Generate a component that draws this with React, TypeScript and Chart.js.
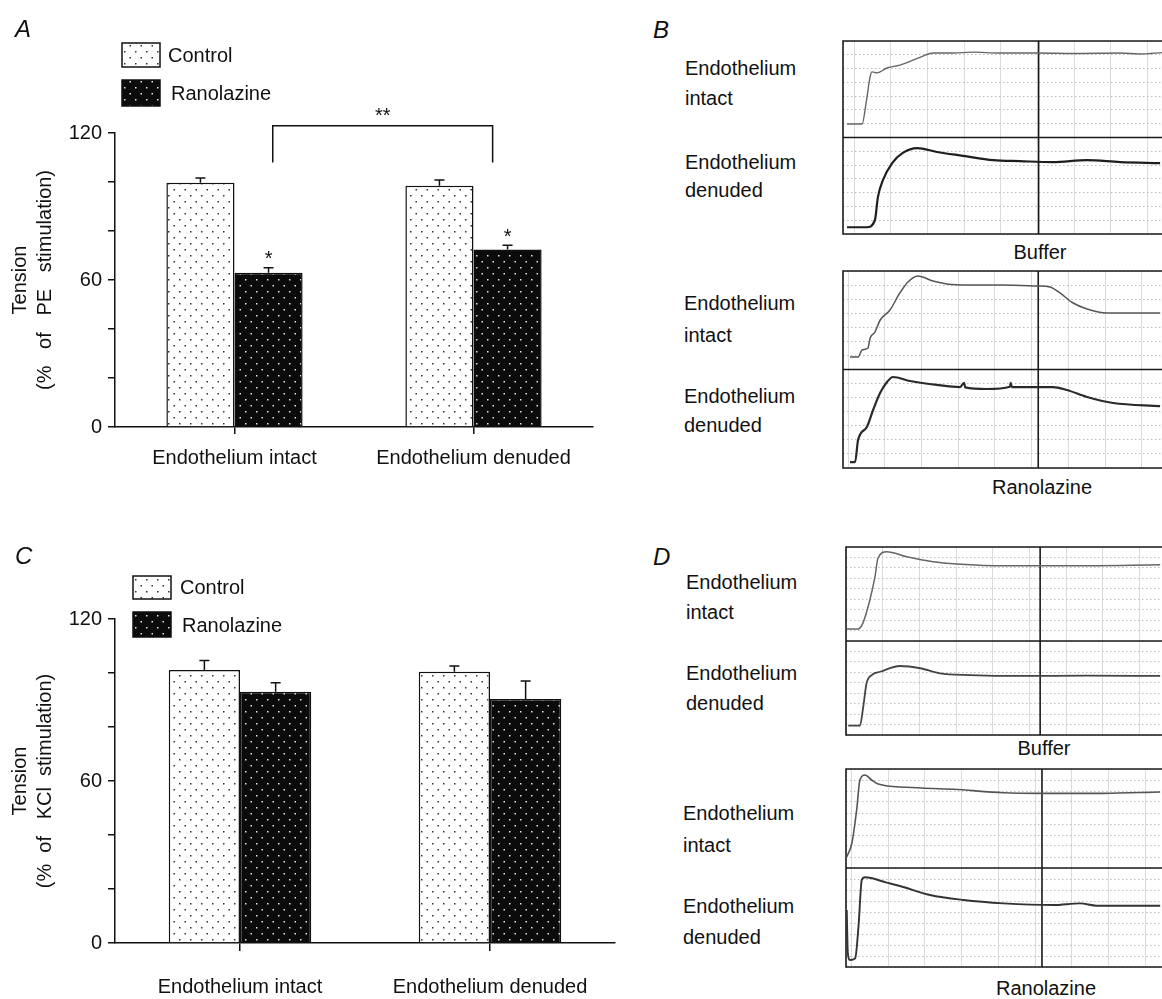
import React, { useEffect, useRef } from 'react';
import { Chart, registerables } from 'chart.js';

Chart.register(...registerables);

const FONT = "'Liberation Sans', Arial, Helvetica, sans-serif";
Chart.defaults.font.family = FONT;
Chart.defaults.font.size = 20;
Chart.defaults.color = '#111';

// ---------------- Bar panel data (A: PE, C: KCl) ----------------
const categories = ['Endothelium intact', 'Endothelium denuded'];
const seriesLabels = ['Control', 'Ranolazine'];
const yTickLabels = [0, 60, 120];
const yTickStep = 20;
const yMax = 120;

const peControl = [99.7, 98.5];
const peControlSem = [1.9, 2.3];
const peRanolazine = [63.0, 72.5];
const peRanolazineSem = [2.0, 1.7];
const peRanolazineStars = ['*', '*'];
const peBracket = { fromCat: 0.16, toCat: 1.08, top: 123, legEnd: 108, label: '**' };
const peYTitle = ['Tension', '(%   of   PE   stimulation)'];

const kclControl = [101.1, 100.5];
const kclControlSem = [3.5, 2.1];
const kclRanolazine = [93.1, 90.4];
const kclRanolazineSem = [3.3, 6.6];
const kclRanolazineStars = ['', ''];
const kclYTitle = ['Tension', '(%  of   KCl  stimulation)'];

// ---------------- Trace data ([time in grid divisions, tension 0-100 of its half]) ----------------
const pePufferIntact = [[0.11, 14], [0.52, 14], [0.63, 36], [0.74, 63], [0.79, 68], [0.93, 67], [1.2, 72], [1.55, 75], [2.1, 83], [2.45, 87.5], [3.0, 87.5], [3.54, 88.5], [4.28, 87.5], [5.34, 87.5], [6.27, 87], [7.55, 87.5], [8.09, 86.5], [8.69, 88]];
const peBufferDenuded = [[0.11, 7], [0.65, 7], [0.87, 14.5], [0.95, 38], [1.09, 56], [1.34, 73.5], [1.63, 84], [2.02, 89], [2.56, 85], [3.27, 81], [4.09, 76.5], [4.82, 75.5], [5.72, 74.5], [6.65, 76.5], [7.55, 74.5], [8.64, 73.5]];
const peRanoIntact = [[0.19, 12.7], [0.41, 12.7], [0.52, 19.8], [0.68, 21.8], [0.74, 32], [0.87, 38], [1.01, 50], [1.28, 60.4], [1.55, 77.7], [1.77, 88.8], [2.04, 94.9], [2.45, 89.8], [2.83, 86.8], [3.46, 85.8], [4.36, 85.8], [5.29, 84.8], [5.64, 83.8], [5.91, 77.7], [6.27, 67.5], [6.65, 61.4], [7.19, 57.4], [8.01, 57.4], [8.64, 57.4]];
const peRanoDenuded = [[0.19, 6], [0.33, 6], [0.41, 28.4], [0.65, 41.6], [0.82, 58.9], [1.01, 76.1], [1.2, 87.3], [1.36, 92.4], [1.83, 88.3], [2.56, 84.3], [3.19, 82.2], [3.3, 86.5], [3.33, 81.8], [3.92, 80.2], [4.55, 82.5], [4.57, 86.5], [4.6, 82.2], [5.72, 82.2], [6.1, 79.2], [6.65, 72.1], [7.36, 66], [8.64, 62.9]];
const kclBufferIntact = [[0.02, 12.8], [0.33, 12.8], [0.46, 19], [0.65, 43.6], [0.79, 68.4], [0.87, 88], [1.11, 95], [1.65, 89.7], [2.37, 84.4], [3.02, 82], [4.38, 80], [6.19, 80], [8.56, 81]];
const kclBufferDenuded = [[0.06, 9.9], [0.38, 9.9], [0.47, 30], [0.56, 55], [0.7, 63.8], [0.93, 67.3], [1.47, 73.4], [2.02, 71], [2.56, 65.6], [3.38, 63.8], [4.74, 62.8], [6.56, 63.1], [8.56, 62.8]];
const kclRanoIntact = [[0.02, 11.4], [0.16, 25], [0.29, 58.6], [0.38, 88.9], [0.52, 93.9], [0.7, 88.9], [0.88, 84.8], [1.65, 81.5], [2.92, 79.5], [4.29, 76], [5.29, 75.4], [7.01, 75.4], [8.56, 76.8]];
const kclRanoDenuded = [[0.02, 57.6], [0.05, 14], [0.11, 7], [0.25, 8.8], [0.34, 40.7], [0.43, 87.9], [0.52, 90.6], [1.11, 85.2], [1.47, 81.8], [2.29, 72.7], [3.2, 67.7], [4.29, 64.3], [5.65, 62.6], [6.38, 64.3], [6.83, 61.9], [8.56, 61.9]];
const additionTimes = [5.33, 5.32, 5.29, 5.34];

function makePattern(bg: string, dot: string) {
  const c = document.createElement('canvas');
  c.width = 11;
  c.height = 12;
  const g = c.getContext('2d')!;
  g.fillStyle = bg;
  g.fillRect(0, 0, 11, 12);
  g.fillStyle = dot;
  g.fillRect(3, 3, 1.5, 1.5);
  g.fillRect(8.5, 9, 1.5, 1.5);
  return g.createPattern(c, 'repeat')!;
}

type LegendItem = { box: [number, number, number, number]; tx: number; ty: number };

function makeBarExtras(legend: LegendItem[], bracket: any) {
  return {
    id: 'barExtras',
    afterDatasetsDraw(chart: any) {
      const { ctx } = chart;
      const xs = chart.scales.x;
      const ys = chart.scales.y;
      ctx.save();
      ctx.strokeStyle = '#111';
      ctx.fillStyle = '#111';
      ctx.lineWidth = 1.5;
      chart.data.datasets.forEach((ds: any, di: number) => {
        const meta = chart.getDatasetMeta(di);
        meta.data.forEach((el: any, i: number) => {
          const top = ys.getPixelForValue(ds.data[i] + ds.sem[i]);
          ctx.beginPath();
          ctx.moveTo(el.x, el.y);
          ctx.lineTo(el.x, top);
          ctx.moveTo(el.x - 5, top);
          ctx.lineTo(el.x + 5, top);
          ctx.stroke();
          if (ds.stars && ds.stars[i]) {
            ctx.font = `20px ${FONT}`;
            ctx.textAlign = 'center';
            ctx.textBaseline = 'alphabetic';
            ctx.fillText(ds.stars[i], el.x, top - 14 + 11.5);
          }
        });
      });
      if (bracket) {
        const xl = xs.getPixelForValue(bracket.fromCat);
        const xr = xs.getPixelForValue(bracket.toCat);
        const yt = ys.getPixelForValue(bracket.top);
        const yl = ys.getPixelForValue(bracket.legEnd);
        ctx.beginPath();
        ctx.moveTo(xl, yl);
        ctx.lineTo(xl, yt);
        ctx.lineTo(xr, yt);
        ctx.lineTo(xr, yl);
        ctx.stroke();
        ctx.font = `20px ${FONT}`;
        ctx.textAlign = 'center';
        ctx.textBaseline = 'alphabetic';
        ctx.fillText(bracket.label, (xl + xr) / 2, yt - 15 + 11.5);
      }
      legend.forEach((it, i) => {
        const ds = chart.data.datasets[i];
        const [bx, by, bw, bh] = it.box;
        ctx.fillStyle = ds.backgroundColor;
        ctx.fillRect(bx, by, bw, bh);
        ctx.strokeStyle = '#111';
        ctx.lineWidth = 1.5;
        ctx.strokeRect(bx, by, bw, bh);
        ctx.fillStyle = '#111';
        ctx.font = `20px ${FONT}`;
        ctx.textAlign = 'left';
        ctx.textBaseline = 'middle';
        ctx.fillText(ds.label, it.tx, it.ty);
      });
      ctx.restore();
    },
  };
}

function BarPanel(props: any) {
  const ref = useRef<HTMLCanvasElement>(null);
  useEffect(() => {
    const ctrlPat = makePattern('#ffffff', '#333333');
    const ranoPat = makePattern('#0b0b0b', '#e6e6e6');
    const chart = new Chart(ref.current!, {
      type: 'bar',
      data: {
        labels: categories,
        datasets: [
          { label: seriesLabels[0], data: props.control, sem: props.controlSem, backgroundColor: ctrlPat, borderColor: '#111', borderWidth: 1.5 } as any,
          { label: seriesLabels[1], data: props.rano, sem: props.ranoSem, stars: props.stars, backgroundColor: ranoPat, borderColor: '#111', borderWidth: 1.5 } as any,
        ],
      },
      options: {
        animation: false,
        responsive: true,
        maintainAspectRatio: false,
        layout: { padding: { top: props.padTop, right: props.padRight, left: 0, bottom: 0 } },
        datasets: { bar: { categoryPercentage: 0.57, barPercentage: 1 } },
        plugins: { legend: { display: false }, tooltip: { enabled: false } },
        scales: {
          x: {
            type: 'category',
            offset: true,
            grid: { offset: false, drawOnChartArea: false, drawTicks: true, tickLength: props.tickLen, color: '#111', lineWidth: 1.5 },
            border: { display: true, color: '#111', width: 1.5 },
            ticks: { color: '#111', font: { size: 20 }, padding: props.labelPad, maxRotation: 0, autoSkip: false },
            afterFit: (s: any) => { s.height = props.xAxisH; },
          },
          y: {
            min: 0,
            max: yMax,
            grid: { drawOnChartArea: false, drawTicks: true, tickLength: 7, color: '#111', lineWidth: 1.5 },
            border: { display: true, color: '#111', width: 1.5 },
            ticks: {
              stepSize: yTickStep,
              padding: 6,
              color: '#111',
              font: { size: 20 },
              callback: (v: any) => (yTickLabels.includes(Number(v)) ? String(v) : ''),
            },
            title: { display: true, text: props.yTitle, color: '#111', font: { size: 20, lineHeight: 1.25 }, padding: { top: 8, bottom: 0 } },
            afterFit: (s: any) => { s.width = 115; },
          },
        },
      } as any,
      plugins: [makeBarExtras(props.legend, props.bracket)],
    });
    return () => chart.destroy();
  }, []);
  return (
    <div style={{ position: 'absolute', left: props.left, top: props.top, width: props.width, height: props.height }}>
      <canvas ref={ref} style={{ display: 'block' }} />
    </div>
  );
}

const traceFrame = (marker: number) => ({
  id: 'traceFrame',
  beforeDatasetsDraw(chart: any) {
    const { ctx, chartArea: a } = chart;
    ctx.save();
    ctx.strokeStyle = '#1a1a1a';
    ctx.lineWidth = 1.6;
    ctx.beginPath();
    ctx.moveTo(a.right + 2, a.top);
    ctx.lineTo(a.left, a.top);
    ctx.lineTo(a.left, a.bottom);
    ctx.lineTo(a.right + 2, a.bottom);
    const mid = chart.scales.yUp.getPixelForValue(0);
    ctx.moveTo(a.left, mid);
    ctx.lineTo(a.right + 2, mid);
    const mx = chart.scales.x.getPixelForValue(marker);
    ctx.moveTo(mx, a.top);
    ctx.lineTo(mx, a.bottom);
    ctx.stroke();
    ctx.restore();
  },
});

function TracePanel(props: any) {
  const ref = useRef<HTMLCanvasElement>(null);
  const { boxLeft, boxTop, boxBottom } = props;
  const width = 1162 - boxLeft + 2;
  const height = boxBottom - boxTop + 4;
  useEffect(() => {
    const xMax = (1162 - boxLeft) / 36.7;
    const gridX: number[] = [];
    for (let v = props.gridOffset; v <= xMax; v += 1) gridX.push(v);
    const gridY: number[] = [];
    for (let v = 0; v <= props.rows; v += 1) gridY.push(v);
    const chart = new Chart(ref.current!, {
      type: 'line',
      data: {
        datasets: [
          { data: props.upper.map(([x, y]: number[]) => ({ x, y })), yAxisID: 'yUp', borderColor: props.upColor, borderWidth: props.upWidth, pointRadius: 0, fill: false, cubicInterpolationMode: 'monotone' },
          { data: props.lower.map(([x, y]: number[]) => ({ x, y })), yAxisID: 'yLow', borderColor: props.lowColor, borderWidth: props.lowWidth, pointRadius: 0, fill: false, cubicInterpolationMode: 'monotone' },
        ],
      },
      options: {
        animation: false,
        responsive: true,
        maintainAspectRatio: false,
        layout: { padding: { left: 2, top: 2, bottom: 2, right: 0 } },
        plugins: { legend: { display: false }, tooltip: { enabled: false } },
        scales: {
          x: {
            type: 'linear', min: 0, max: xMax,
            ticks: { display: false },
            grid: { color: '#dcdcdc', lineWidth: 1, drawTicks: false },
            border: { display: false },
            afterBuildTicks: (s: any) => { s.ticks = gridX.map((v) => ({ value: v })); },
          },
          yGrid: {
            type: 'linear', position: 'left', min: 0, max: props.rows,
            ticks: { display: false },
            grid: { color: '#bdbdbd', lineWidth: 1, drawTicks: false },
            border: { display: false, dash: [1.5, 2.5] },
            afterBuildTicks: (s: any) => { s.ticks = gridY.map((v) => ({ value: v })); },
          },
          yUp: { type: 'linear', display: false, min: -100, max: 100 },
          yLow: { type: 'linear', display: false, min: 0, max: 200 },
        },
      } as any,
      plugins: [traceFrame(props.marker)],
    });
    return () => chart.destroy();
  }, []);
  return (
    <div style={{ position: 'absolute', left: boxLeft - 2, top: boxTop - 2, width, height }}>
      <canvas ref={ref} style={{ display: 'block' }} />
    </div>
  );
}

function Txt({ x, y, text, size = 20, italic = false, center = false }: any) {
  return (
    <div
      style={{
        position: 'absolute',
        left: center ? x - 150 : x,
        width: center ? 300 : undefined,
        textAlign: center ? 'center' : 'left',
        top: y - size / 2,
        fontSize: size,
        lineHeight: 1,
        fontFamily: FONT,
        fontStyle: italic ? 'italic' : 'normal',
        color: '#111',
        whiteSpace: 'pre',
      }}
    >
      {text}
    </div>
  );
}

export default function App() {
  return (
    <div style={{ position: 'absolute', left: 0, top: 0, width: 1162, height: 999, overflow: 'hidden', background: '#fff' }}>
      <BarPanel
        left={0} top={0} width={600} height={480}
        padTop={133} padRight={7} xAxisH={53} tickLen={7} labelPad={12}
        control={peControl} controlSem={peControlSem} rano={peRanolazine} ranoSem={peRanolazineSem}
        stars={peRanolazineStars} bracket={peBracket} yTitle={peYTitle}
        legend={[{ box: [122, 43, 38, 24], tx: 168, ty: 56 }, { box: [122, 80, 38, 26], tx: 171, ty: 94 }]}
      />
      <BarPanel
        left={0} top={540} width={620} height={459}
        padTop={79} padRight={5} xAxisH={56} tickLen={8} labelPad={24}
        control={kclControl} controlSem={kclControlSem} rano={kclRanolazine} ranoSem={kclRanolazineSem}
        stars={kclRanolazineStars} bracket={null} yTitle={kclYTitle}
        legend={[{ box: [133, 36, 38, 23], tx: 180, ty: 48 }, { box: [133, 72, 38, 25], tx: 182, ty: 86 }]}
      />
      <TracePanel boxLeft={843} boxTop={41} boxBottom={234} gridOffset={0.3} rows={14} marker={additionTimes[0]}
        upper={pePufferIntact} lower={peBufferDenuded} upColor="#666" upWidth={1.4} lowColor="#1e1e1e" lowWidth={2.2} />
      <TracePanel boxLeft={843} boxTop={271} boxBottom={468} gridOffset={0.14} rows={14} marker={additionTimes[1]}
        upper={peRanoIntact} lower={peRanoDenuded} upColor="#555" upWidth={1.5} lowColor="#2a2a2a" lowWidth={2.2} />
      <TracePanel boxLeft={846} boxTop={547} boxBottom={735} gridOffset={0} rows={18} marker={additionTimes[2]}
        upper={kclBufferIntact} lower={kclBufferDenuded} upColor="#666" upWidth={1.5} lowColor="#444" lowWidth={1.8} />
      <TracePanel boxLeft={846} boxTop={769} boxBottom={967} gridOffset={0.15} rows={18} marker={additionTimes[3]}
        upper={kclRanoIntact} lower={kclRanoDenuded} upColor="#555" upWidth={1.6} lowColor="#333" lowWidth={1.9} />

      <Txt x={15} y={29} text="A" size={24} italic />
      <Txt x={653} y={30} text="B" size={24} italic />
      <Txt x={15} y={556} text="C" size={24} italic />
      <Txt x={653} y={557} text="D" size={24} italic />

      <Txt x={685} y={68} text="Endothelium" />
      <Txt x={685} y={98} text="intact" />
      <Txt x={685} y={162} text="Endothelium" />
      <Txt x={685} y={190} text="denuded" />
      <Txt x={1040} y={252} text="Buffer" center />

      <Txt x={684} y={303} text="Endothelium" />
      <Txt x={684} y={335} text="intact" />
      <Txt x={684} y={396} text="Endothelium" />
      <Txt x={684} y={425} text="denuded" />
      <Txt x={1042} y={487} text="Ranolazine" center />

      <Txt x={686} y={582} text="Endothelium" />
      <Txt x={686} y={612} text="intact" />
      <Txt x={686} y={673} text="Endothelium" />
      <Txt x={686} y={703} text="denuded" />
      <Txt x={1044} y={748} text="Buffer" center />

      <Txt x={683} y={813} text="Endothelium" />
      <Txt x={683} y={845} text="intact" />
      <Txt x={683} y={906} text="Endothelium" />
      <Txt x={683} y={937} text="denuded" />
      <Txt x={1046} y={988} text="Ranolazine" center />
    </div>
  );
}
